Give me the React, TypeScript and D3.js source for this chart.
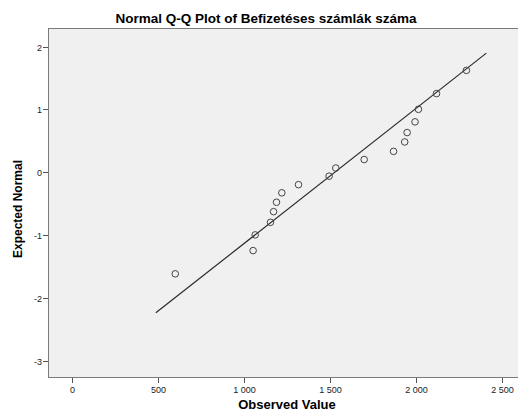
import { useEffect, useRef } from "react";
import * as d3 from "d3";

const observed = [599, 1052, 1064, 1153, 1171, 1188, 1219, 1316, 1494, 1533, 1698, 1869, 1934, 1948, 1994, 2014, 2119, 2293];
const expected = [-1.62, -1.25, -1.0, -0.8, -0.63, -0.48, -0.33, -0.2, -0.065, 0.065, 0.2, 0.33, 0.48, 0.63, 0.8, 1.0, 1.25, 1.62];
const xTicks = [0, 500, 1000, 1500, 2000, 2500];
const yTicks = [-3, -2, -1, 0, 1, 2];
// reference line: y = (x - mean) / sd
const lineMean = 1528;
const lineSd = 465;
const lineExtent = [486, 2409];

const W = 518;
const H = 414;

export default function App() {
  const ref = useRef<SVGSVGElement>(null);

  useEffect(() => {
    const svg = d3.select(ref.current);
    svg.selectAll("*").remove();

    const frame = { left: 48, top: 28, right: 540, bottom: 377 };
    const x = d3.scaleLinear().domain([0, 2500]).range([72.3, 502]);
    const y = d3.scaleLinear().domain([-3, 2]).range([360.5, 46.5]);

    const fmt = d3.formatLocale({ decimal: ",", thousands: " ", grouping: [3], currency: ["", ""] }).format(",d");

    svg
      .append("rect")
      .attr("x", frame.left + 0.5)
      .attr("y", frame.top + 0.5)
      .attr("width", frame.right - frame.left)
      .attr("height", frame.bottom - frame.top)
      .attr("fill", "#f0f0f0")
      .attr("stroke", "#7a7a7a")
      .attr("stroke-width", 1);

    const font = "'Liberation Sans', Arial, sans-serif";

    // y axis ticks
    const yg = svg.append("g");
    yTicks.forEach((t) => {
      const py = Math.round(y(t)) + 0.5;
      yg.append("line")
        .attr("x1", frame.left - 5)
        .attr("x2", frame.left)
        .attr("y1", py)
        .attr("y2", py)
        .attr("stroke", "#555");
      yg.append("text")
        .attr("x", frame.left - 6)
        .attr("y", py + 3)
        .attr("text-anchor", "end")
        .attr("font-family", font)
        .attr("font-size", 9)
        .attr("fill", "#222")
        .text(t);
    });

    // x axis ticks
    const xg = svg.append("g");
    xTicks.forEach((t) => {
      const px = Math.round(x(t)) + 0.5;
      xg.append("line")
        .attr("x1", px)
        .attr("x2", px)
        .attr("y1", frame.bottom + 1)
        .attr("y2", frame.bottom + 6)
        .attr("stroke", "#555");
      xg.append("text")
        .attr("x", px)
        .attr("y", frame.bottom + 16)
        .attr("text-anchor", "middle")
        .attr("font-family", font)
        .attr("font-size", 9)
        .attr("fill", "#222")
        .text(fmt(t));
    });

    // reference line
    svg
      .append("line")
      .attr("x1", x(lineExtent[0]))
      .attr("y1", y((lineExtent[0] - lineMean) / lineSd))
      .attr("x2", x(lineExtent[1]))
      .attr("y2", y((lineExtent[1] - lineMean) / lineSd))
      .attr("stroke", "#2a2a2a")
      .attr("stroke-width", 1.2);

    // points
    svg
      .append("g")
      .selectAll("circle")
      .data(observed)
      .enter()
      .append("circle")
      .attr("cx", (d) => x(d))
      .attr("cy", (d, i) => y(expected[i]))
      .attr("r", 3.3)
      .attr("fill", "none")
      .attr("stroke", "#444")
      .attr("stroke-width", 1);

    svg
      .append("text")
      .attr("x", 266)
      .attr("y", 23)
      .attr("text-anchor", "middle")
      .attr("font-family", font)
      .attr("font-weight", "bold")
      .attr("font-size", 13.5)
      .text("Normal Q-Q Plot of Befizetéses számlák száma");

    svg
      .append("text")
      .attr("x", 287)
      .attr("y", 409)
      .attr("text-anchor", "middle")
      .attr("font-family", font)
      .attr("font-weight", "bold")
      .attr("font-size", 13)
      .text("Observed Value");

    svg
      .append("text")
      .attr("transform", "translate(22,209) rotate(-90)")
      .attr("text-anchor", "middle")
      .attr("font-family", font)
      .attr("font-weight", "bold")
      .attr("font-size", 12)
      .text("Expected Normal");
  }, []);

  return (
    <svg
      ref={ref}
      width={W}
      height={H}
      style={{ position: "absolute", left: 0, top: 0, background: "#fff" }}
    />
  );
}
